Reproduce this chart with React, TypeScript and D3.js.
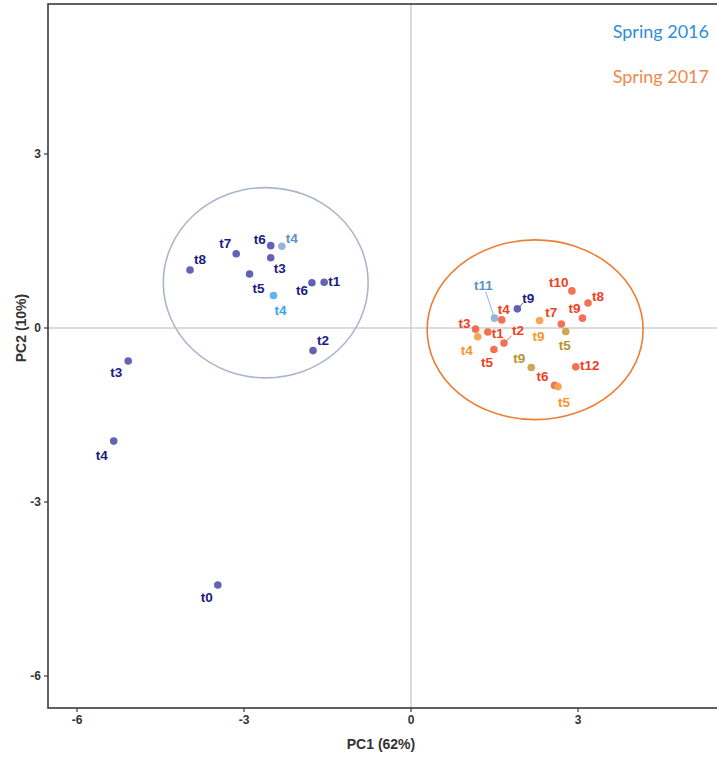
import React from "react";
import * as d3 from "d3";

// PCA scores, grouped by point colour
const navyLabels = ["t8", "t7", "t6", "t3", "t5", "t6", "t1", "t2", "t3", "t4", "t0", "t9"];
const navyPC1 = [-3.97, -3.14, -2.52, -2.52, -2.9, -1.78, -1.56, -1.76, -5.08, -5.34, -3.47, 1.91];
const navyPC2 = [1.0, 1.28, 1.42, 1.21, 0.93, 0.78, 0.79, -0.39, -0.57, -1.95, -4.43, 0.33];

const steelLabels = ["t4", "t11"];
const steelPC1 = [-2.32, 1.5];
const steelPC2 = [1.41, 0.17];

const skyLabels = ["t4"];
const skyPC1 = [-2.47];
const skyPC2 = [0.56];

const redLabels = ["t4", "t3", "t1", "t2", "t5", "t7", "t10", "t9", "t8", "t12", "t6"];
const redPC1 = [1.63, 1.16, 1.38, 1.67, 1.49, 2.7, 2.89, 3.08, 3.18, 2.96, 2.58];
const redPC2 = [0.14, -0.02, -0.07, -0.26, -0.37, 0.07, 0.64, 0.17, 0.43, -0.67, -0.99];

const orangeLabels = ["t4", "t9", "t5"];
const orangePC1 = [1.2, 2.31, 2.64];
const orangePC2 = [-0.15, 0.13, -1.01];

const khakiLabels = ["t5", "t9"];
const khakiPC1 = [2.78, 2.16];
const khakiPC2 = [-0.06, -0.68];

// ellipses: centre x, centre y, radius x, radius y
const ell2016 = [-2.61, 0.78, 1.84, 1.64];
const ell2017 = [2.23, -0.03, 1.94, 1.55];

const xTicks = [-6, -3, 0, 3];
const yTicks = [3, 0, -3, -6];
const legendNames = ["Spring 2016", "Spring 2017"];

// label placement (pixel offsets from the point, repel-style); third value = draw segment
const navyOff = [[10, -11, 0], [-11, -11, 0], [-11, -7, 0], [9, 10, 0], [9, 14, 0], [-10, 7, 0], [10, -1, 0], [10, -11, 0], [-12, 11, 0], [-12, 14, 0], [-11, 12, 0], [11, -11, 1]];
const steelOff = [[10, -8, 0], [-11, -33, 1]];
const skyOff = [[7, 14, 0]];
const redOff = [[2, -11, 0], [-11, -6, 0], [10, 1, 0], [14, -13, 1], [-7, 13, 0], [-10, -12, 0], [-13, -9, 0], [-8, -10, 0], [10, -7, 0], [14, -2, 0], [-12, -9, 0]];
const orangeOff = [[-11, 13, 0], [-1, 16, 0], [6, 15, 0]];
const khakiOff = [[-1, 14, 0], [-12, -9, 0]];

const W = 717;
const H = 757;
const L = 48, R = 740, T = 4, B = 708;

export default function App() {
  const x = d3.scaleLinear().domain([0, 3]).range([411, 578]);
  const y = d3.scaleLinear().domain([0, 3]).range([328, 154]);

  const groups = [
    { labels: navyLabels, px: navyPC1, py: navyPC2, off: navyOff, fill: "#5b5bb0", text: "#1c1c80" },
    { labels: steelLabels, px: steelPC1, py: steelPC2, off: steelOff, fill: "#8fb2d2", text: "#5b93c4" },
    { labels: skyLabels, px: skyPC1, py: skyPC2, off: skyOff, fill: "#5aaef0", text: "#3ba3f0" },
    { labels: redLabels, px: redPC1, py: redPC2, off: redOff, fill: "#f26a4a", text: "#f0401e" },
    { labels: orangeLabels, px: orangePC1, py: orangePC2, off: orangeOff, fill: "#f7a24a", text: "#f5952a" },
    { labels: khakiLabels, px: khakiPC1, py: khakiPC2, off: khakiOff, fill: "#c8a24e", text: "#b8922c" },
  ];

  const ellipse = (e: number[], color: string) => (
    <ellipse
      cx={x(e[0])}
      cy={y(e[1])}
      rx={x(e[2]) - x(0)}
      ry={y(0) - y(e[3])}
      fill="none"
      stroke={color}
      strokeWidth={1.6}
    />
  );

  const font = "'Liberation Sans Narrow', 'Liberation Sans', Arial, sans-serif";

  return (
    <svg width={W} height={H} style={{ position: "absolute", left: 0, top: 0, background: "#fff" }}>
      {/* zero lines */}
      <line x1={x(0)} x2={x(0)} y1={T} y2={B} stroke="#cfcfcf" strokeWidth={1.5} />
      <line x1={L} x2={W} y1={y(0)} y2={y(0)} stroke="#cfcfcf" strokeWidth={1.5} />

      {ellipse(ell2016, "#a9b6cb")}
      {ellipse(ell2017, "#ef7d34")}

      {/* frame */}
      <rect x={L} y={T} width={R - L} height={B - T} fill="none" stroke="#3a3a3a" strokeWidth={1.6} />

      {/* ticks */}
      {xTicks.map((t) => (
        <g key={"x" + t}>
          <line x1={x(t)} x2={x(t)} y1={B} y2={B + 4} stroke="#3a3a3a" strokeWidth={1.2} />
          <text x={x(t)} y={B + 16} textAnchor="middle" fontFamily={font} fontWeight="bold" fontSize={12} fill="#333">
            {t}
          </text>
        </g>
      ))}
      {yTicks.map((t) => (
        <g key={"y" + t}>
          <line x1={L - 4} x2={L} y1={y(t)} y2={y(t)} stroke="#3a3a3a" strokeWidth={1.2} />
          <text x={L - 7} y={y(t) + 4} textAnchor="end" fontFamily={font} fontWeight="bold" fontSize={12} fill="#333">
            {t}
          </text>
        </g>
      ))}

      <text x={381} y={749} textAnchor="middle" fontFamily={font} fontWeight="bold" fontSize={14} fill="#333">
        PC1 (62%)
      </text>
      <text
        transform={`translate(26, ${y(0)}) rotate(-90)`}
        textAnchor="middle"
        fontFamily={font}
        fontWeight="bold"
        fontSize={14}
        fill="#333"
      >
        PC2 (10%)
      </text>

      {/* connectors for displaced labels */}
      {groups.map((g, gi) =>
        g.labels.map((lab, i) => {
          const [dx, dy, seg] = g.off[i];
          if (!seg) return null;
          const px = x(g.px[i]);
          const py = y(g.py[i]);
          const k = Math.hypot(dx, dy) > 25 ? 0.8 : 0.55;
          return (
            <line
              key={`c${gi}-${i}`}
              x1={px}
              y1={py}
              x2={px + dx * k}
              y2={py + dy * k}
              stroke={g.fill}
              strokeWidth={1}
            />
          );
        })
      )}

      {/* points */}
      {groups.map((g, gi) =>
        g.labels.map((lab, i) => (
          <circle key={`p${gi}-${i}`} cx={x(g.px[i])} cy={y(g.py[i])} r={3.8} fill={g.fill} opacity={0.95} />
        ))
      )}

      {/* labels */}
      {groups.map((g, gi) =>
        g.labels.map((lab, i) => (
          <text
            key={`l${gi}-${i}`}
            x={x(g.px[i]) + g.off[i][0]}
            y={y(g.py[i]) + g.off[i][1] + 5}
            textAnchor="middle"
            fontFamily={font}
            fontWeight="bold"
            fontSize={13.5}
            fill={g.text}
          >
            {lab}
          </text>
        ))
      )}

      {/* legend */}
      <text x={709} y={38} textAnchor="end" fontFamily="Lato, 'Open Sans', sans-serif" fontSize={18} fill="#2f8fd3">
        {legendNames[0]}
      </text>
      <text x={709} y={83} textAnchor="end" fontFamily="Lato, 'Open Sans', sans-serif" fontSize={18} fill="#f0884a">
        {legendNames[1]}
      </text>
    </svg>
  );
}
